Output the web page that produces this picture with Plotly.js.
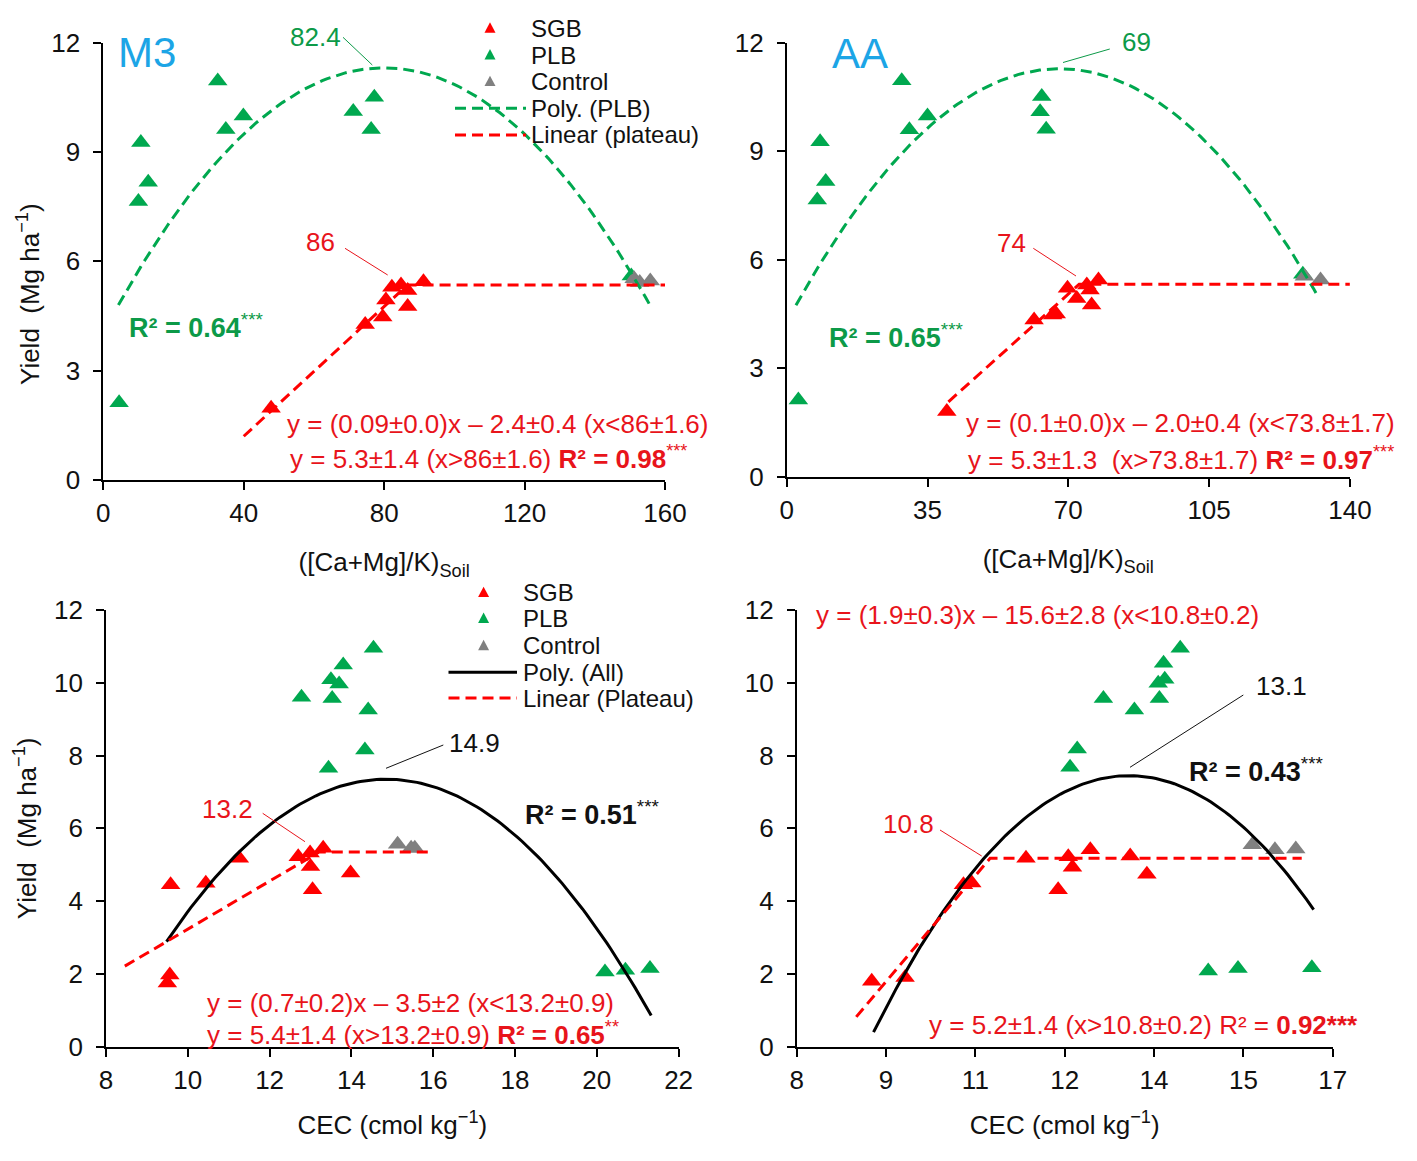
<!DOCTYPE html>
<html>
<head>
<meta charset="utf-8">
<script src="https://cdn.plot.ly/plotly-3.0.1.min.js"></script>
<style>html,body{margin:0;padding:0;background:#fff;}#chart{width:1417px;height:1161px;}</style>
</head>
<body>
<div id="chart"></div>
<script>
// ================= DATA =================
// Panel A: M3, ([Ca+Mg]/K)Soil vs yield
const m3SgbX = [47.8, 74.6, 79.6, 80.5, 82.2, 84.8, 86.7, 86.7, 91.2];
const m3SgbY = [1.97, 4.27, 4.47, 4.94, 5.29, 5.35, 5.20, 4.76, 5.44];
const m3PlbX = [4.5, 10.0, 10.7, 12.8, 32.6, 34.9, 39.9, 71.2, 76.3, 77.2, 150.4];
const m3PlbY = [2.12, 7.64, 9.26, 8.17, 10.95, 9.62, 9.99, 10.11, 9.62, 10.50, 5.60];
const m3CtrlX = [151.2, 152.8, 155.8];
const m3CtrlY = [5.52, 5.42, 5.46];
const m3PolyCoef = [4.04, 0.18176, -0.001136];   // c0, c1, c2  Poly. (PLB)
const m3PolyRange = [4.3, 155.8];
const m3LinFit = [0.089, -2.36, 5.35];            // slope, intercept, plateau
const m3LinRange = [40, 160];

// Panel B: AA, ([Ca+Mg]/K)Soil vs yield
const aaSgbX = [39.8, 61.5, 66.1, 67.0, 69.8, 72.1, 74.6, 75.4, 75.8, 77.5];
const aaSgbY = [1.80, 4.33, 4.47, 4.50, 5.21, 4.93, 5.30, 5.16, 4.75, 5.44];
const aaPlbX = [2.9, 7.6, 8.3, 9.7, 28.6, 30.5, 35.0, 63.0, 63.4, 64.5, 128.3];
const aaPlbY = [2.12, 7.65, 9.26, 8.16, 10.95, 9.59, 9.97, 10.09, 10.51, 9.61, 5.60];
const aaCtrlX = [128.7, 132.7];
const aaCtrlY = [5.54, 5.44];
const aaPolyCoef = [4.274, 0.20665, -0.001524];
const aaPolyRange = [2.3, 132.1];
const aaLinFit = [0.1, -1.95, 5.32];
const aaLinRange = [40.2, 140];

// Panel C: CEC (M3) vs yield
const cecM3SgbX = [9.50, 9.56, 9.58, 10.44, 11.26, 12.70, 12.99, 13.00, 13.05, 13.31, 13.98];
const cecM3SgbY = [1.75, 1.97, 4.45, 4.49, 5.18, 5.22, 5.32, 4.95, 4.31, 5.45, 4.77];
const cecM3PlbX = [12.78, 13.44, 13.50, 13.53, 13.70, 13.80, 14.33, 14.41, 14.54, 20.20, 20.70, 21.30];
const cecM3PlbY = [9.60, 7.65, 10.08, 9.57, 9.97, 10.49, 8.15, 9.25, 10.95, 2.05, 2.10, 2.15];
const cecM3CtrlX = [15.13, 15.46, 15.55];
const cecM3CtrlY = [5.56, 5.45, 5.45];
const cecM3PolyCoef = [-26.764, 4.5946, -0.1547];  // Poly. (All)
const cecM3PolyRange = [9.48, 21.33];
const cecM3LinFit = [0.66, -3.37, 5.35];
const cecM3LinRange = [8.46, 16.0];

// Panel D: CEC (AA) vs yield
const cecAaSgbX = [9.26, 9.82, 10.80, 10.94, 11.85, 12.39, 12.56, 12.63, 12.93, 13.60, 13.88];
const cecAaSgbY = [1.80, 1.90, 4.45, 4.50, 5.18, 4.31, 5.22, 4.93, 5.41, 5.24, 4.74];
const cecAaPlbX = [12.59, 12.71, 13.15, 13.67, 14.07, 14.09, 14.16, 14.18, 14.44, 14.91, 15.41, 16.65];
const cecAaPlbY = [7.68, 8.18, 9.57, 9.25, 9.99, 9.57, 10.54, 10.10, 10.95, 2.08, 2.15, 2.17];
const cecAaCtrlX = [15.65, 16.03, 16.38];
const cecAaCtrlY = [5.55, 5.41, 5.43];
const cecAaPolyCoef = [-63.18, 10.402, -0.383];
const cecAaPolyRange = [9.29, 16.68];
const cecAaLinFit = [1.94, -16.64, 5.18];
const cecAaLinRange = [9.0, 16.48];

// Tick labels
const ratioTicksM3 = [0, 40, 80, 120, 160];
const ratioTicksAA = [0, 35, 70, 105, 140];
const yieldTicksTop = [0, 3, 6, 9, 12];
const yieldTicksBottom = [0, 2, 4, 6, 8, 10, 12];
const cecTicksM3 = [8, 10, 12, 14, 16, 18, 20, 22];
const cecTicksAaVals = [8, 9.5, 11, 12.5, 14, 15.5, 17];
const cecTicksAaText = ['8', '9', '11', '12', '14', '15', '17'];

const legendTop = ['SGB', 'PLB', 'Control', 'Poly. (PLB)', 'Linear (plateau)'];
const legendBottom = ['SGB', 'PLB', 'Control', 'Poly. (All)', 'Linear (Plateau)'];

// ================= STYLE =================
const W = 1417, H = 1161;
const PX = x => x / W, PY = y => 1 - y / H;
const FONT = 'Liberation Sans, Arial, Helvetica, sans-serif';
const RED = '#ff0000', GREEN = '#00a84f', GRAY = '#808080', BLACK = '#000000';
const RED_T = '#e8141b', GREEN_T = '#0c9a48', BLUE_T = '#1ca5e6', TXT = '#111111';
const DASH = '11px,6px';

function polyCurve(coef, range) {
  const xs = [], ys = [];
  const n = 120;
  for (let i = 0; i <= n; i++) {
    const x = range[0] + (range[1] - range[0]) * i / n;
    xs.push(x);
    ys.push(coef[0] + coef[1] * x + coef[2] * x * x);
  }
  return {x: xs, y: ys};
}
function plateauLine(fit, range) {
  const brk = (fit[2] - fit[1]) / fit[0];
  return {x: [range[0], brk, range[1]], y: [fit[0] * range[0] + fit[1], fit[2], fit[2]]};
}
function markers(x, y, color, xa, ya, name) {
  return {type: 'scatter', mode: 'markers', x: x, y: y, name: name, xaxis: xa, yaxis: ya,
    showlegend: false, marker: {symbol: 'triangle-up', size: 17, color: color, line: {width: 0}},
    hoverinfo: 'x+y'};
}
function line(obj, color, dash, xa, ya, name) {
  return {type: 'scatter', mode: 'lines', x: obj.x, y: obj.y, name: name, xaxis: xa, yaxis: ya,
    showlegend: false, line: {color: color, width: 3, dash: dash}, hoverinfo: 'skip'};
}

const traces = [
  markers(m3SgbX, m3SgbY, RED, 'x', 'y', 'SGB'),
  markers(m3PlbX, m3PlbY, GREEN, 'x', 'y', 'PLB'),
  markers(m3CtrlX, m3CtrlY, GRAY, 'x', 'y', 'Control'),
  line(polyCurve(m3PolyCoef, m3PolyRange), GREEN, DASH, 'x', 'y', 'Poly. (PLB)'),
  line(plateauLine(m3LinFit, m3LinRange), RED, DASH, 'x', 'y', 'Linear (plateau)'),

  markers(aaSgbX, aaSgbY, RED, 'x2', 'y2', 'SGB'),
  markers(aaPlbX, aaPlbY, GREEN, 'x2', 'y2', 'PLB'),
  markers(aaCtrlX, aaCtrlY, GRAY, 'x2', 'y2', 'Control'),
  line(polyCurve(aaPolyCoef, aaPolyRange), GREEN, DASH, 'x2', 'y2', 'Poly. (PLB)'),
  line(plateauLine(aaLinFit, aaLinRange), RED, DASH, 'x2', 'y2', 'Linear (plateau)'),

  markers(cecM3SgbX, cecM3SgbY, RED, 'x3', 'y3', 'SGB'),
  markers(cecM3PlbX, cecM3PlbY, GREEN, 'x3', 'y3', 'PLB'),
  markers(cecM3CtrlX, cecM3CtrlY, GRAY, 'x3', 'y3', 'Control'),
  line(polyCurve(cecM3PolyCoef, cecM3PolyRange), BLACK, 'solid', 'x3', 'y3', 'Poly. (All)'),
  line(plateauLine(cecM3LinFit, cecM3LinRange), RED, DASH, 'x3', 'y3', 'Linear (Plateau)'),

  markers(cecAaSgbX, cecAaSgbY, RED, 'x4', 'y4', 'SGB'),
  markers(cecAaPlbX, cecAaPlbY, GREEN, 'x4', 'y4', 'PLB'),
  markers(cecAaCtrlX, cecAaCtrlY, GRAY, 'x4', 'y4', 'Control'),
  line(polyCurve(cecAaPolyCoef, cecAaPolyRange), BLACK, 'solid', 'x4', 'y4', 'Poly. (All)'),
  line(plateauLine(cecAaLinFit, cecAaLinRange), RED, DASH, 'x4', 'y4', 'Linear (Plateau)')
];

function axis(extra) {
  return Object.assign({
    showline: true, linecolor: '#000', linewidth: 1.8,
    ticks: 'outside', ticklen: 8, tickwidth: 1.8, tickcolor: '#000',
    showgrid: false, zeroline: false, fixedrange: true,
    tickfont: {family: FONT, size: 26, color: TXT}
  }, extra);
}
const xTitleFont = {family: FONT, size: 26, color: TXT};

const layout = {
  width: W, height: H,
  margin: {l: 0, r: 0, t: 0, b: 0},
  paper_bgcolor: '#fff', plot_bgcolor: 'rgba(0,0,0,0)',
  showlegend: false,
  font: {family: FONT, color: TXT},
  xaxis: axis({domain: [PX(103.3), PX(665)], range: [0, 160], tickvals: ratioTicksM3, anchor: 'y',
    ticklabelstandoff: 1,
    title: {text: '([Ca+Mg]/K)<sub>Soil</sub>', font: xTitleFont, standoff: 26}}),
  yaxis: axis({domain: [PY(480), PY(42.7)], range: [0, 12], tickvals: yieldTicksTop, anchor: 'x',
    ticklabelstandoff: 8}),
  xaxis2: axis({domain: [PX(786.7), PX(1349.9)], range: [0, 140], tickvals: ratioTicksAA, anchor: 'y2',
    ticklabelstandoff: 1,
    title: {text: '([Ca+Mg]/K)<sub>Soil</sub>', font: xTitleFont, standoff: 26}}),
  yaxis2: axis({domain: [PY(476.7), PY(42.7)], range: [0, 12], tickvals: yieldTicksTop, anchor: 'x2',
    ticklabelstandoff: 8}),
  xaxis3: axis({domain: [PX(106), PX(678.6)], range: [8, 22], tickvals: cecTicksM3, anchor: 'y3',
    ticklabelstandoff: 1,
    title: {text: 'CEC (cmol kg<sup>−1</sup>)', font: xTitleFont, standoff: 22}}),
  yaxis3: axis({domain: [PY(1046.7), PY(610)], range: [0, 12], tickvals: yieldTicksBottom, anchor: 'x3',
    ticklabelstandoff: 8,
    title: {text: 'Yield  (Mg ha<sup>−1</sup>)', font: xTitleFont, standoff: 10}}),
  xaxis4: axis({domain: [PX(796.7), PX(1332.7)], range: [8, 17], tickvals: cecTicksAaVals, ticktext: cecTicksAaText,
    anchor: 'y4', ticklabelstandoff: 1,
    title: {text: 'CEC (cmol kg<sup>−1</sup>)', font: xTitleFont, standoff: 22}}),
  yaxis4: axis({domain: [PY(1046.7), PY(610)], range: [0, 12], tickvals: yieldTicksBottom, anchor: 'x4',
    ticklabelstandoff: 8}),
  annotations: [],
  shapes: []
};

function txt(text, x, y, size, color, opts) {
  layout.annotations.push(Object.assign({
    text: text, xref: 'paper', yref: 'paper', x: PX(x), y: PY(y),
    xanchor: 'left', yanchor: 'middle', showarrow: false,
    font: {family: FONT, size: size, color: color}
  }, opts || {}));
}
function seg(x0, y0, x1, y1, color, width, dash) {
  layout.shapes.push({type: 'line', xref: 'paper', yref: 'paper',
    x0: PX(x0), y0: PY(y0), x1: PX(x1), y1: PY(y1),
    line: {color: color, width: width, dash: dash || 'solid'}});
}
function tri(cx, cy, color) {
  const w = 5.5, h = 5.5;
  layout.shapes.push({type: 'path', xref: 'paper', yref: 'paper',
    path: 'M' + PX(cx - w) + ',' + PY(cy + h * 0.8) + ' L' + PX(cx + w) + ',' + PY(cy + h * 0.8) +
          ' L' + PX(cx) + ',' + PY(cy - h * 1.1) + ' Z',
    fillcolor: color, line: {width: 0}});
}

// Y title for top-left panel
txt('Yield  (Mg ha<sup>−1</sup>)', 29, 294, 26, TXT, {xanchor: 'center', textangle: -90});

// Panel A annotations
txt('M3', 116, 52.5, 42, BLUE_T);
txt('82.4', 315.3, 37, 26, GREEN_T, {xanchor: 'center'});
seg(343, 37.3, 372.3, 65, GREEN_T, 1);
txt('86', 320.3, 241.7, 26, RED_T, {xanchor: 'center'});
seg(345, 248.3, 387.7, 275, RED_T, 1);
txt('<b>R² = 0.64</b><sup>***</sup>', 127, 326, 27, GREEN_T);
txt('y = (0.09±0.0)x – 2.4±0.4 (x&lt;86±1.6)', 285, 424, 26, RED_T);
txt('y = 5.3±1.4 (x&gt;86±1.6) <b>R² = 0.98</b><sup>***</sup>', 288, 457, 26, RED_T);

// Panel A legend
const legRowsA = [28.3, 55, 81.7, 108.3, 135];
legendTop.forEach((t, i) => txt(t, 529, legRowsA[i], 24, TXT));
tri(490, legRowsA[0], RED);
tri(490, legRowsA[1], GREEN);
tri(490, legRowsA[2], GRAY);
seg(455, legRowsA[3], 526, legRowsA[3], GREEN, 3, DASH);
seg(455, legRowsA[4], 526, legRowsA[4], RED, 3, DASH);

// Panel B annotations
txt('AA', 830, 53, 42, BLUE_T);
txt('69', 1136, 42, 26, GREEN_T, {xanchor: 'center'});
seg(1109.8, 49, 1063, 62.5, GREEN_T, 1);
txt('74', 1011.7, 243.3, 26, RED_T, {xanchor: 'center'});
seg(1033.3, 248.3, 1076, 276, RED_T, 1);
txt('<b>R² = 0.65</b><sup>***</sup>', 827, 336, 27, GREEN_T);
txt('y = (0.1±0.0)x – 2.0±0.4 (x&lt;73.8±1.7)', 964, 423.3, 26, RED_T);
txt('y = 5.3±1.3 &nbsp;(x&gt;73.8±1.7) <b>R² = 0.97</b><sup>***</sup>', 966, 458.3, 26, RED_T);

// Panel C annotations
txt('14.9', 474, 743, 26, TXT, {xanchor: 'center'});
seg(443.3, 745, 386, 768.3, TXT, 1);
txt('13.2', 227, 809, 26, RED_T, {xanchor: 'center'});
seg(262.7, 813.3, 305, 841.7, RED_T, 1);
txt('<b>R² = 0.51</b><sup>***</sup>', 523, 813, 27, TXT);
txt('y = (0.7±0.2)x – 3.5±2 (x&lt;13.2±0.9)', 205, 1003.3, 26, RED_T);
txt('y = 5.4±1.4 (x&gt;13.2±0.9) <b>R² = 0.65</b><sup>**</sup>', 205, 1033.3, 26, RED_T);

// Panel C legend
const legRowsC = [592.7, 618.5, 645.8, 672.3, 698];
legendBottom.forEach((t, i) => txt(t, 521, legRowsC[i], 24, TXT));
tri(483.6, legRowsC[0], RED);
tri(483.6, legRowsC[1], GREEN);
tri(483.6, legRowsC[2], GRAY);
seg(448.5, legRowsC[3], 517, legRowsC[3], BLACK, 3);
seg(448.5, legRowsC[4], 517, legRowsC[4], RED, 3, DASH);

// Panel D annotations
txt('y = (1.9±0.3)x – 15.6±2.8 (x&lt;10.8±0.2)', 814, 615, 26, RED_T);
txt('13.1', 1281.7, 686, 26, TXT, {xanchor: 'center'});
seg(1243.3, 695, 1130, 767.3, TXT, 1);
txt('<b>R² = 0.43</b><sup>***</sup>', 1187, 770, 27, TXT);
txt('10.8', 908.8, 824, 26, RED_T, {xanchor: 'center'});
seg(940, 830, 981.7, 856, RED_T, 1);
txt('y = 5.2±1.4 (x&gt;10.8±0.2) R² = <b>0.92***</b>', 927, 1025, 26, RED_T);

Plotly.newPlot('chart', traces, layout, {displayModeBar: false});
</script>
</body>
</html>
